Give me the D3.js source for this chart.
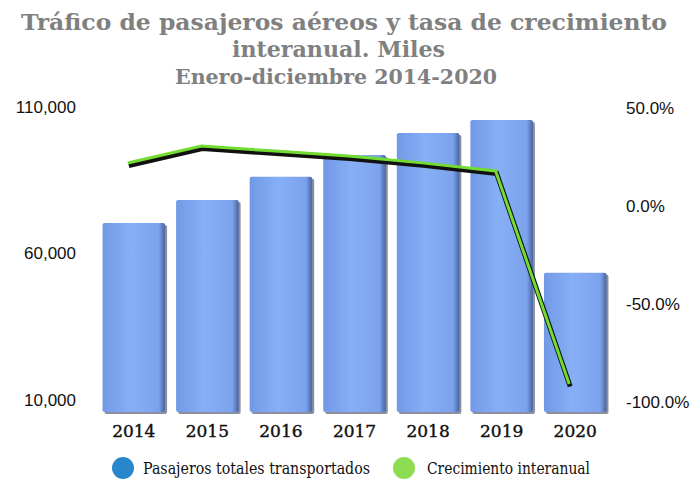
<!DOCTYPE html>
<html><head><meta charset="utf-8">
<script src="https://cdn.jsdelivr.net/npm/d3@7/dist/d3.min.js"></script>
<style>body{margin:0;background:#fff}svg{display:block}</style>
</head><body>
<script>
const years = ["2014","2015","2016","2017","2018","2019","2020"];
const passengers = [70400, 78300, 86200, 93600, 101100, 105600, 53400];
const growth = [21.9, 30.6, 28.0, 25.5, 22.0, 17.9, -90.8];
const leftTicks = [10000, 60000, 110000];
const rightTicks = [50, 0, -50, -100];
const titleLines = ["Tráfico de pasajeros aéreos y tasa de crecimiento", "interanual. Miles"];
const subtitle = "Enero-diciembre 2014-2020";
const legendLabels = ["Pasajeros totales transportados", "Crecimiento interanual"];

const W = 691, H = 480;
const svg = d3.select("body").append("svg").attr("width", W).attr("height", H);
const slab = "'DejaVu Serif', serif";
const sans = "'Liberation Sans', Arial, sans-serif";

const defs = svg.append("defs");
const g1 = defs.append("linearGradient").attr("id","barg").attr("x1","0").attr("x2","1").attr("y1","0").attr("y2","0");
g1.append("stop").attr("offset","0").attr("stop-color","#7199e6");
g1.append("stop").attr("offset","0.45").attr("stop-color","#87aff6");
g1.append("stop").attr("offset","0.9").attr("stop-color","#7ba2ec");
g1.append("stop").attr("offset","1").attr("stop-color","#4a64a0");

const x = d3.scaleBand().domain(years).range([97, 612]).paddingInner(0.15).paddingOuter(0.075);
const yL = d3.scaleLinear().domain([10000, 110000]).range([400, 107]);
const yR = d3.scaleLinear().domain([-100, 50]).range([402, 108]);
const base = 412;

// Title
const tl = [[titleLines[0], 21, 667, 30], [titleLines[1], 232, 445, 57]];
tl.forEach(([t, x0, x1, yy]) => {
  svg.append("text").attr("x", x0).attr("y", yy).attr("textLength", x1 - x0).attr("lengthAdjust","spacingAndGlyphs")
    .attr("font-family", slab).attr("font-weight","bold").attr("font-size", 23).attr("fill", "#808080").text(t);
});
svg.append("text").attr("x", 175).attr("y", 84).attr("textLength", 322).attr("lengthAdjust","spacingAndGlyphs")
  .attr("font-family", slab).attr("font-weight","bold").attr("font-size", 21).attr("fill", "#808080").text(subtitle);

// Bars
const bars = svg.append("g");
years.forEach((yr, i) => {
  const bx = x(yr), bw = x.bandwidth(), top = yL(passengers[i]);
  bars.append("rect").attr("x", bx + 2).attr("y", top + 2).attr("width", bw).attr("height", base - top)
    .attr("rx", 2).attr("fill", "#2c3550").attr("opacity", 0.55);
  bars.append("rect").attr("x", bx).attr("y", top).attr("width", bw).attr("height", base - top)
    .attr("rx", 2).attr("fill", "url(#barg)");
});

// Line
const line = d3.line().x((d, i) => x(years[i]) + x.bandwidth() / 2 - 6).y(d => yR(d));
svg.append("path").datum(growth).attr("d", line).attr("transform","translate(1,2.5)")
  .attr("fill","none").attr("stroke","#111").attr("stroke-width",5).attr("stroke-linejoin","miter");
svg.append("path").datum(growth).attr("d", line)
  .attr("fill","none").attr("stroke","#72dc30").attr("stroke-width",3).attr("stroke-linejoin","miter");

// Axes
const fmtL = d3.format(",");
const axL = d3.axisLeft(yL).tickValues(leftTicks).tickFormat(fmtL).tickSize(0).tickPadding(0);
const gL = svg.append("g").attr("transform","translate(76,0)").call(axL);
gL.select(".domain").remove();
gL.selectAll("text").attr("font-family", sans).attr("font-size", 17).attr("fill","#111");

const axR = d3.axisRight(yR).tickValues(rightTicks).tickFormat(d => d.toFixed(1) + "%").tickSize(0).tickPadding(0);
const gR = svg.append("g").attr("transform","translate(626,0)").call(axR);
gR.select(".domain").remove();
gR.selectAll("text").attr("font-family", sans).attr("font-size", 17).attr("fill","#111");

const axB = d3.axisBottom(x).tickSize(0).tickPadding(0);
const gB = svg.append("g").attr("transform","translate(0,425)").call(axB);
gB.select(".domain").remove();
gB.selectAll("text").attr("font-family", slab).attr("font-size", 17).attr("fill","#111")
  .attr("stroke","#111").attr("stroke-width",0.4);

// Legend
const leg = [[123, "#2a86cc", 143, 370, legendLabels[0]], [404, "#8ddc52", 427, 590, legendLabels[1]]];
leg.forEach(([cx, col, tx, tx1, lab]) => {
  svg.append("circle").attr("cx", cx).attr("cy", 468).attr("r", 11).attr("fill", col);
  svg.append("text").attr("x", tx).attr("y", 474).attr("textLength", tx1 - tx).attr("lengthAdjust","spacingAndGlyphs")
    .attr("font-family", slab).attr("font-size", 16).attr("fill", "#111").text(lab);
});
</script>
</body></html>
